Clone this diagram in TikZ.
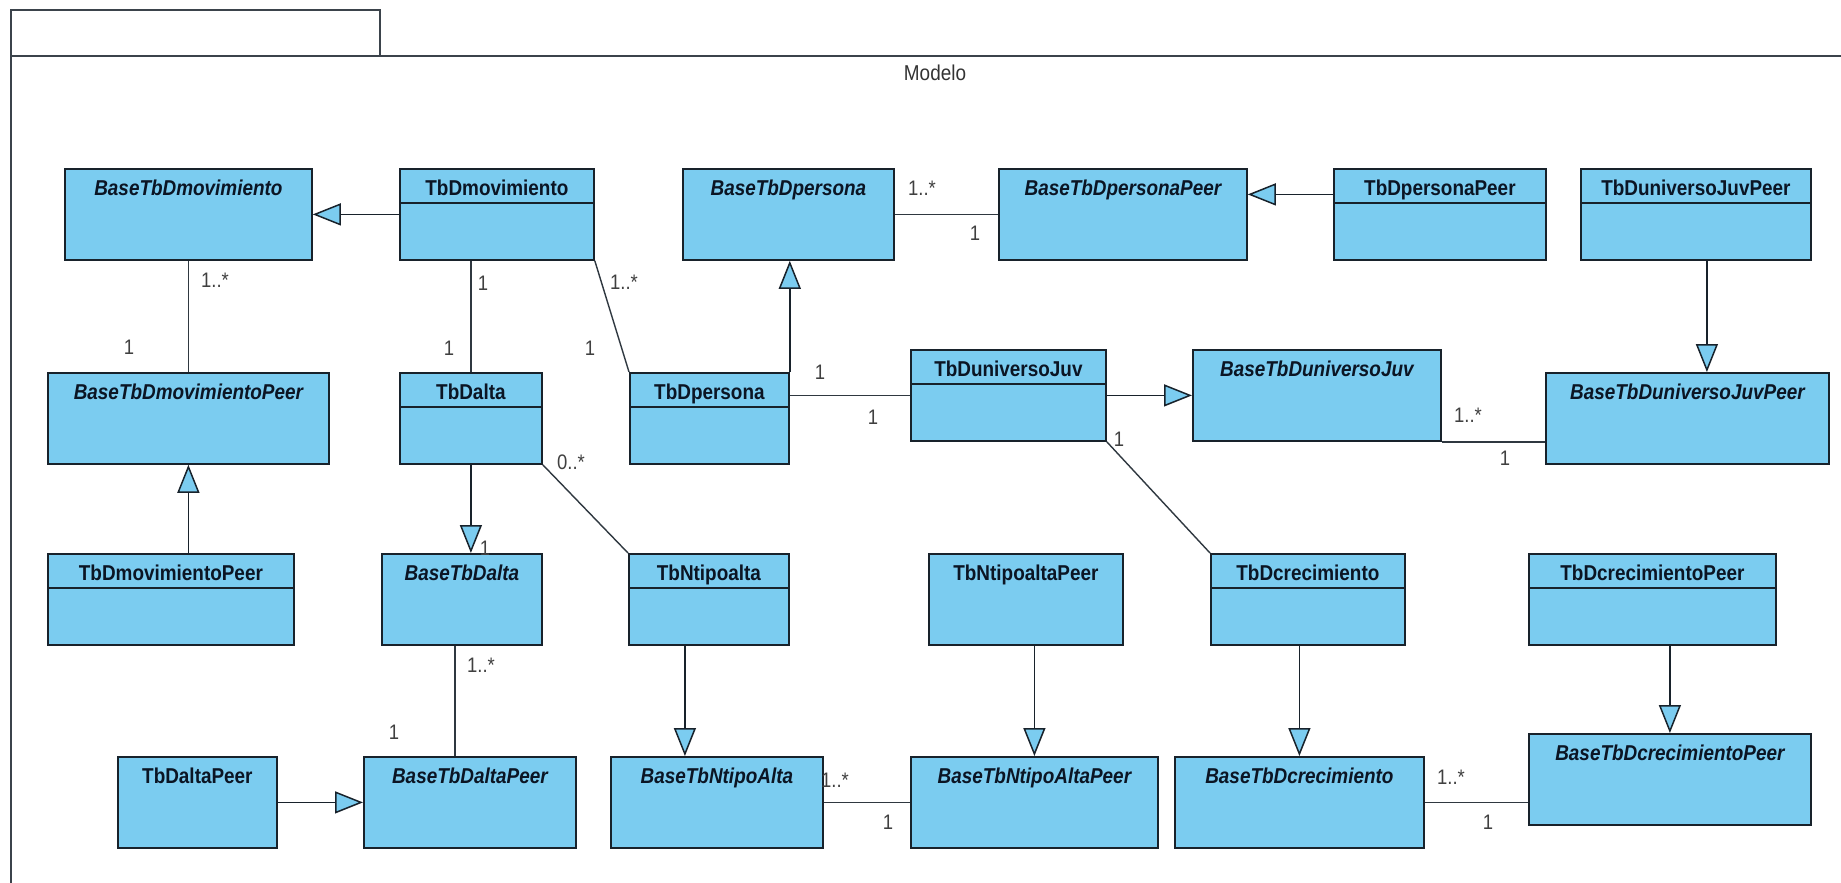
\documentclass[tikz,border=0pt]{standalone}
\usepackage{fontspec}
\setmainfont{Liberation Sans}
\newfontfamily\umlfont[FakeStretch=0.88]{Liberation Sans}
\usetikzlibrary{arrows.meta}
\definecolor{umlfill}{HTML}{7BCCF0}
\definecolor{umlline}{HTML}{18222B}
\definecolor{umltext}{HTML}{0B1524}

\begin{document}
\begin{tikzpicture}[
  x=1pt,y=-1pt,
  cls/.style={rectangle,draw=umlline,line width=1.8pt,fill=umlfill,
    inner sep=0pt,anchor=north west,text height=26.7pt,text depth=64.3pt,
    text=umltext,font=\umlfont\fontsize{21.5}{24}\selectfont\bfseries},
  abs/.style={cls,font=\umlfont\fontsize{21.5}{24}\selectfont\bfseries\itshape},
  divided/.style={path picture={\draw[umlline,line width=1.8pt]
    ([yshift=-34pt]path picture bounding box.north west) --
    ([yshift=-34pt]path picture bounding box.north east);}},
  gen/.style={draw=umlline,line width=1.5pt,
    -{Triangle[length=28pt,width=22pt,fill=umlfill]}},
  assoc/.style={draw=umlline!90,line width=1.4pt},
  mult/.style={inner sep=0pt,text=black!75,font=\umlfont\fontsize{21}{23}\selectfont}
]
\useasboundingbox (0,0) rectangle (1841,883);
\fill[white] (0,0) rectangle (1841,883);
\clip (0,0) rectangle (1841,883);

% Package frame, cut by the page on the right and at the bottom.
\draw[umlline!85,line width=1.8pt] (11,10) rectangle (380,56);
\draw[umlline!85,line width=1.8pt] (11,56) rectangle (1870,910);
\node[text=black!80,font=\umlfont\fontsize{21.5}{24}\selectfont] (pkg-name)
  at (935,73) {Modelo};

% Concrete classes with an empty attribute compartment.
\foreach \id/\x/\y/\w/\txt in {
    tbdmov/399/168/194/TbDmovimiento,
    perpeer/1333/168/212/TbDpersonaPeer,
    univpeer/1580/168/230/TbDuniversoJuvPeer,
    alta/399/372/142/TbDalta,
    persona/629/372/159/TbDpersona,
    univ/910/349/195/TbDuniversoJuv,
    movpeer/47/553/246/TbDmovimientoPeer,
    tipoalta/628/553/160/TbNtipoalta,
    crec/1210/553/194/TbDcrecimiento,
    crecpeer/1528/553/247/TbDcrecimientoPeer} {
  \node[cls,divided,minimum width=\w pt] (\id) at (\x,\y) {\txt};
}
\node[cls,minimum width=194pt] (tipoaltapeer) at (928,553)
  {TbNtipoaltaPeer};
\node[cls,minimum width=159pt] (altapeer) at (117,756) {TbDaltaPeer};

% Abstract base classes.
\foreach \id/\x/\y/\w/\txt in {
    basemov/64/168/247/BaseTbDmovimiento,
    baseper/682/168/211/BaseTbDpersona,
    baseperpeer/998/168/248/BaseTbDpersonaPeer,
    basemovpeer/47/372/281/BaseTbDmovimientoPeer,
    baseuniv/1192/349/248/BaseTbDuniversoJuv,
    baseunivpeer/1545/372/283/BaseTbDuniversoJuvPeer,
    basealta/381/553/160/BaseTbDalta,
    basealtapeer/363/756/212/BaseTbDaltaPeer,
    basetipo/610/756/212/BaseTbNtipoAlta,
    basetipopeer/910/756/247/BaseTbNtipoAltaPeer,
    basecrec/1174/756/249/BaseTbDcrecimiento,
    basecrecpeer/1528/733/282/BaseTbDcrecimientoPeer} {
  \node[abs,minimum width=\w pt] (\id) at (\x,\y) {\txt};
}

% Generalizations
\draw[gen] (tbdmov) -- (basemov);
\draw[gen] ([yshift=20pt]perpeer.west) -- ([yshift=20pt]perpeer.west -| baseperpeer.east);
\draw[gen] (persona.north east) -- (persona.north east |- baseper.south);
\draw[gen] (univ) -- (baseuniv);
\draw[gen] ([xshift=11pt]univpeer.south) -- ([xshift=11pt]univpeer.south |- baseunivpeer.north);
\draw[gen] (movpeer.north -| basemovpeer.south) -- (basemovpeer.south);
\draw[gen] (alta.south) -- (alta.south |- basealta.north);
\draw[gen] ([xshift=-24pt]tipoalta.south) -- ([xshift=-24pt]tipoalta.south |- basetipo.north);
\draw[gen] (tipoaltapeer.south -| basetipopeer.north) -- (basetipopeer.north);
\draw[gen] (crec.south -| basecrec.north) -- (basecrec.north);
\draw[gen] (crecpeer.south -| basecrecpeer.north) -- (basecrecpeer.north);
\draw[gen] (altapeer) -- (basealtapeer);

% Associations
\draw[assoc] (basemov.south) -- (basemov.south |- basemovpeer.north);
\draw[assoc] (alta.north |- tbdmov.south) -- (alta.north);
\draw[assoc] (tbdmov.south east) -- (persona.north west);
\draw[assoc] (baseper) -- (baseperpeer);
\draw[assoc] (persona.east |- univ.west) -- (univ.west);
\draw[assoc] (univ.south east) -- (crec.north west);
\draw[assoc] (baseuniv.south east) -- (baseuniv.south east -| baseunivpeer.west);
\draw[assoc] (alta.south east) -- (tipoalta.north west);
\draw[assoc] ([xshift=-7pt]basealta.south) -- ([xshift=-7pt]basealta.south |- basealtapeer.north);
\draw[assoc] (basetipo) -- (basetipopeer);
\draw[assoc] (basecrec.east) -- (basecrec.east -| basecrecpeer.west);

% Multiplicities
\foreach \x/\y/\t [count=\k] in {
    215/280/1..*, 129/347/1, 483/283/1, 449/348/1, 624/282/1..*,
    590/348/1, 922/188/1..*, 975/233/1, 820/372/1, 873/417/1,
    1119/439/1, 1468/415/1..*, 1505/458/1, 571/462/0..*, 485/548/1,
    481/665/1..*, 394/732/1, 835/780/1..*, 888/822/1, 1451/777/1..*,
    1488/822/1} {
  \node[mult] (mult-\k) at (\x,\y) {\t};
}
\end{tikzpicture}
\end{document}
